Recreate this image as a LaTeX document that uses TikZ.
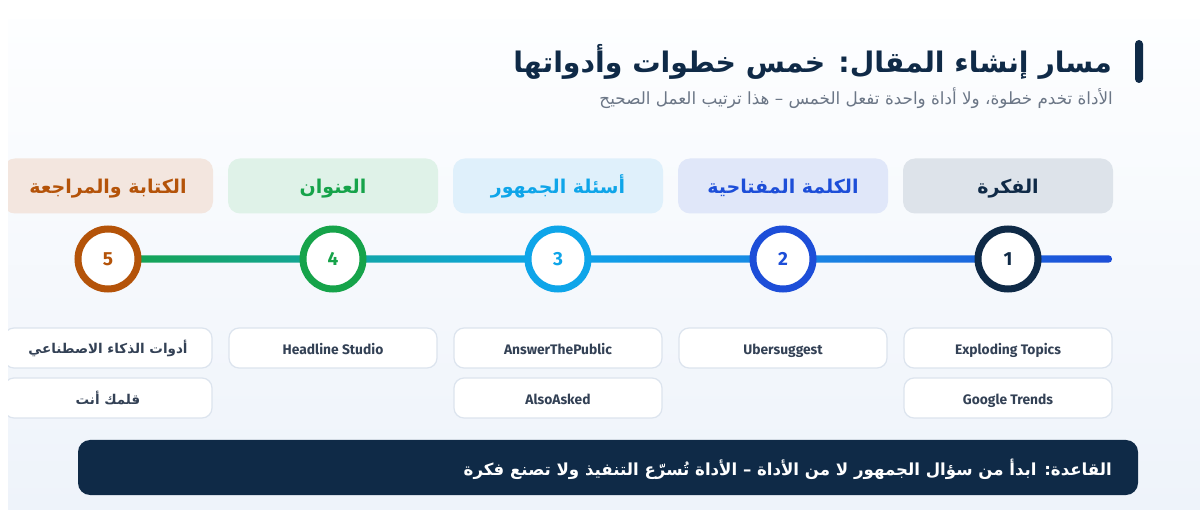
\documentclass[tikz,border=0pt]{standalone}
\usepackage{fontspec}
\usetikzlibrary{calc}
\setmainfont{DejaVu Sans}
\newfontfamily\arabicfont[Script=Arabic]{DejaVu Sans}
\newfontfamily\latinfont{Fira Sans}
\TeXXeTstate=1
\definecolor{navy}{HTML}{0F2A47}
\definecolor{cA}{HTML}{1D4ED8}
\definecolor{cB}{HTML}{0EA5E9}
\definecolor{cC}{HTML}{16A34A}
\definecolor{cD}{HTML}{B45309}
\definecolor{fN}{HTML}{DDE3EA}
\definecolor{fA}{HTML}{E0E7F9}
\definecolor{fB}{HTML}{DFF0FB}
\definecolor{fC}{HTML}{DFF2E8}
\definecolor{fD}{HTML}{F3E6DF}
\definecolor{toolborder}{HTML}{DCE4EE}
\definecolor{tooltext}{HTML}{334155}
\definecolor{subgray}{HTML}{6B7686}
\definecolor{panelbot}{HTML}{EEF3FA}
\definecolor{paneltop}{HTML}{FDFEFF}
\definecolor{lineG}{HTML}{16A34A}
\definecolor{lineT}{HTML}{12A6A6}
\definecolor{lineS}{HTML}{0EA5E9}
\definecolor{lineM}{HTML}{1A7FE2}
\definecolor{lineB}{HTML}{1D4ED8}
\pgfdeclarehorizontalshading{timeline}{100bp}{color(0bp)=(lineG); color(25bp)=(lineG); color(37bp)=(lineT); color(47bp)=(lineS); color(62bp)=(lineM); color(75bp)=(lineB); color(100bp)=(lineB)}
\begin{document}
\begin{tikzpicture}[x=1pt,y=-1pt,
  headbox/.style={rounded corners=12, minimum width=210, minimum height=55, inner sep=0,
    text height=21, text depth=5,
    font=\arabicfont\bfseries\fontsize{19}{22}\selectfont},
  stepcirc/.style={circle, draw, line width=7, fill=white, minimum size=60, inner sep=0,
    font=\latinfont\bfseries\fontsize{19}{22}\selectfont},
  toolbox/.style={rounded corners=10, draw=toolborder, line width=1.2, fill=white,
    minimum width=208, minimum height=40, inner sep=0, text=tooltext},
  latintool/.style={text height=15.5, text depth=3, font=\latinfont\bfseries\fontsize{13.8}{16}\selectfont},
  arabtool/.style={font=\arabicfont\bfseries\fontsize{13.5}{16}\selectfont},
]
\useasboundingbox (0,0) rectangle (1200,510);
\fill[white] (0,0) rectangle (1200,510);
\shade[top color=paneltop, bottom color=panelbot] (8,20) rectangle (1200,510);

\begin{scope}
\clip (8,20) rectangle (1200,510);

% title
\fill[navy, rounded corners=4] (1135,40) rectangle (1143,83);
\node[anchor=east, text=navy, inner sep=0, font=\arabicfont\bfseries\fontsize{28.3}{32}\selectfont]
  (title) at (1112,62) {\beginR مسار إنشاء المقال: خمس خطوات وأدواتها\endR};
\node[anchor=east, text=subgray, inner sep=0, font=\arabicfont\fontsize{16.8}{20}\selectfont]
  (subtitle) at (1113,98) {\beginR الأداة تخدم خطوة، ولا أداة واحدة تفعل الخمس – هذا ترتيب العمل الصحيح\endR};

% header boxes
\node[headbox, fill=fN, text=navy] (h1) at (1008,186) {\beginR الفكرة\endR};
\node[headbox, fill=fA, text=cA] (h2) at (783,186) {\beginR الكلمة المفتاحية\endR};
\node[headbox, fill=fB, text=cB] (h3) at (558,186) {\beginR أسئلة الجمهور\endR};
\node[headbox, fill=fC, text=cC] (h4) at (333,186) {\beginR العنوان\endR};
\node[headbox, fill=fD, text=cD] (h5) at (108,186) {\beginR الكتابة والمراجعة\endR};

% timeline
\coordinate (p5) at (108,259);
\coordinate (lineend) at (1112,259);
\shade[shading=timeline, rounded corners=3.5]
  ($(p5)+(0,-3.7)$) rectangle ($(lineend)+(0,3.7)$);

\node[stepcirc, draw=navy, text=navy] (s1) at (1008,259) {1};
\node[stepcirc, draw=cA, text=cA] (s2) at (783,259) {2};
\node[stepcirc, draw=cB, text=cB] (s3) at (558,259) {3};
\node[stepcirc, draw=cC, text=cC] (s4) at (333,259) {4};
\node[stepcirc, draw=cD, text=cD] (s5) at (108,259) {5};

% tools
\node[toolbox, latintool] (t1a) at (1008,348) {Exploding Topics};
\node[toolbox, latintool] (t1b) at (1008,398) {Google Trends};
\node[toolbox, latintool] (t2a) at (783,348) {Ubersuggest};
\node[toolbox, latintool] (t3a) at (558,348) {AnswerThePublic};
\node[toolbox, latintool] (t3b) at (558,398) {AlsoAsked};
\node[toolbox, latintool] (t4a) at (333,348) {Headline Studio};
\node[toolbox, arabtool] (t5a) at (108,348) {\beginR أدوات الذكاء الاصطناعي\endR};
\node[toolbox, arabtool] (t5b) at (108,398) {\beginR قلمك أنت\endR};

% rule banner
\node[fill=navy, rounded corners=12, minimum width=1060, minimum height=55, inner sep=0] (banner) at (608,467.5) {};
\node[anchor=east, text=white, inner sep=0, font=\arabicfont\bfseries\fontsize{16.6}{20}\selectfont]
  (rule) at (1112,469) {\beginR القاعدة: ابدأ من سؤال الجمهور لا من الأداة – الأداة تُسرّع التنفيذ ولا تصنع فكرة\endR};
\end{scope}
\end{tikzpicture}
\end{document}
